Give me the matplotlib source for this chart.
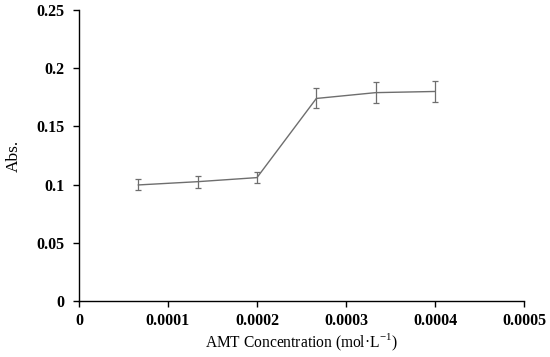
import matplotlib
matplotlib.use("Agg")
import matplotlib.pyplot as plt

conc = [0.0000667, 0.0001333, 0.0002, 0.0002667, 0.0003333, 0.0004]
absorb = [0.0997, 0.1025, 0.106, 0.174, 0.179, 0.180]
err = [0.0047, 0.005, 0.005, 0.0086, 0.009, 0.009]
xticks = [0, 0.0001, 0.0002, 0.0003, 0.0004, 0.0005]
xticklabels = ["0", "0.0001", "0.0002", "0.0003", "0.0004", "0.0005"]
yticks = [0, 0.05, 0.1, 0.15, 0.2, 0.25]
yticklabels = ["0", "0.05", "0.1", "0.15", "0.2", "0.25"]

plt.rcParams['font.family'] = ['Liberation Serif', 'DejaVu Serif']
fig = plt.figure(figsize=(5.5, 3.57), dpi=100)
ax = fig.add_axes([0.1436, 0.1569, 0.8091, 0.8151])
ax.errorbar(conc, absorb, yerr=err, color='#6e6e6e', lw=1.0, elinewidth=0.9,
            capsize=2.5, capthick=0.9)
ax.set_xlim(0, 0.0005)
ax.set_ylim(0, 0.25)
ax.set_xticks(xticks)
ax.set_xticklabels(xticklabels, fontweight='bold', fontsize=11.5)
ax.set_yticks(yticks)
ax.set_yticklabels(yticklabels, fontweight='bold', fontsize=11.5)
for s in ['top', 'right']:
    ax.spines[s].set_visible(False)
for s in ['left', 'bottom']:
    ax.spines[s].set_linewidth(1.0)
ax.tick_params(axis='x', direction='out', length=4, width=1.0, pad=4.5)
ax.tick_params(axis='y', direction='out', length=4, width=1.0, pad=6.5)
ax.set_xlabel('AMT Concentration (mol·L$^{\\mathregular{-1}}$)', fontsize=11.2, labelpad=2)
ax.set_ylabel('Abs.', fontsize=12.5, labelpad=10)
fig.savefig('out.png', dpi=100)
